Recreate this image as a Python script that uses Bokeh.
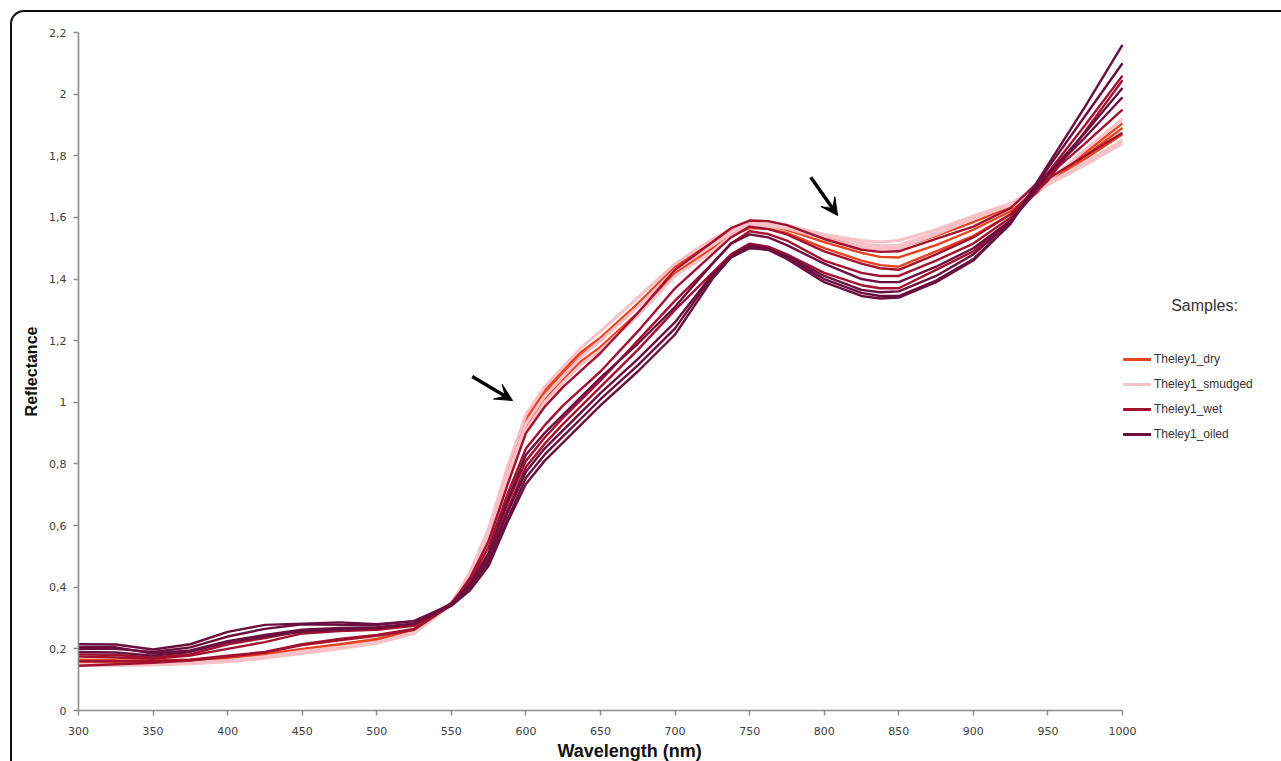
from bokeh.plotting import figure
from bokeh.models import Legend, LegendItem, Arrow, VeeHead, FixedTicker, Label, Range1d, Title
from bokeh.embed import file_html
from bokeh.resources import INLINE

# ---------------- data ----------------
wavelength = [300, 325, 350, 375, 400, 425, 450, 475, 500, 525, 550,
              562.5, 575, 587.5, 600, 612.5, 625, 637.5, 650,
              675, 700, 725, 737.5, 750, 762.5, 775,
              800, 825, 837.5, 850, 875, 900, 925, 950, 975, 1000]

dry_1 = [.165, .163, .162, .165, .172, .183, .200, .215, .232, .262, .350,
         .44, .58, .78, .95, 1.04, 1.105, 1.165, 1.21,
         1.32, 1.44, 1.52, 1.560, 1.585, 1.583, 1.57,
         1.535, 1.505, 1.497, 1.50, 1.54, 1.585, 1.635, 1.72, 1.81, 1.905]
dry_2 = [.160, .158, .158, .162, .170, .182, .197, .212, .228, .258, .348,
         .44, .57, .77, .94, 1.03, 1.095, 1.155, 1.20,
         1.31, 1.43, 1.51, 1.550, 1.575, 1.573, 1.56,
         1.52, 1.485, 1.472, 1.47, 1.51, 1.56, 1.62, 1.715, 1.79, 1.87]
dry_3 = [.155, .155, .156, .160, .168, .180, .195, .210, .226, .256, .346,
         .43, .56, .75, .92, 1.01, 1.075, 1.135, 1.18,
         1.29, 1.42, 1.50, 1.540, 1.565, 1.563, 1.55,
         1.50, 1.46, 1.445, 1.44, 1.49, 1.54, 1.61, 1.71, 1.80, 1.89]
smudged_1 = [.150, .150, .150, .153, .160, .172, .188, .203, .220, .252, .345,
             .45, .59, .79, .96, 1.05, 1.115, 1.18, 1.23,
             1.34, 1.45, 1.53, 1.562, 1.58, 1.582, 1.575,
             1.545, 1.525, 1.52, 1.525, 1.56, 1.605, 1.645, 1.715, 1.82, 1.92]
smudged_2 = [.145, .146, .148, .152, .158, .170, .185, .200, .218, .250, .343,
             .44, .57, .76, .93, 1.02, 1.085, 1.15, 1.20,
             1.31, 1.43, 1.51, 1.552, 1.575, 1.577, 1.57,
             1.54, 1.515, 1.508, 1.51, 1.55, 1.60, 1.645, 1.71, 1.78, 1.85]
smudged_3 = [.148, .148, .150, .155, .162, .175, .192, .206, .222, .254, .346,
             .43, .55, .74, .91, 1.00, 1.065, 1.125, 1.17,
             1.28, 1.41, 1.49, 1.540, 1.57, 1.572, 1.565,
             1.53, 1.505, 1.498, 1.50, 1.545, 1.595, 1.64, 1.705, 1.77, 1.84]
wet_1 = [.175, .172, .168, .178, .200, .222, .250, .258, .262, .275, .345,
         .43, .55, .73, .90, .985, 1.05, 1.105, 1.16,
         1.29, 1.43, 1.52, 1.565, 1.59, 1.588, 1.575,
         1.53, 1.495, 1.488, 1.49, 1.53, 1.57, 1.63, 1.745, 1.90, 2.06]
wet_2 = [.182, .180, .172, .182, .215, .235, .258, .262, .265, .278, .348,
         .42, .53, .70, .85, .925, .99, 1.045, 1.10,
         1.23, 1.37, 1.48, 1.535, 1.57, 1.562, 1.545,
         1.49, 1.45, 1.435, 1.43, 1.48, 1.535, 1.61, 1.735, 1.84, 1.95]
wet_3 = [.160, .160, .160, .165, .178, .190, .215, .232, .245, .265, .345,
         .41, .51, .67, .81, .885, .95, 1.01, 1.07,
         1.20, 1.33, 1.45, 1.515, 1.555, 1.546, 1.525,
         1.46, 1.42, 1.41, 1.41, 1.46, 1.515, 1.60, 1.72, 1.88, 2.045]
wet_4 = [.145, .150, .155, .162, .175, .188, .212, .228, .242, .262, .342,
         .40, .50, .65, .79, .865, .93, .99, 1.05,
         1.17, 1.30, 1.42, 1.480, 1.515, 1.505, 1.48,
         1.42, 1.38, 1.37, 1.37, 1.43, 1.49, 1.59, 1.725, 1.80, 1.875]
oiled_1 = [.200, .200, .190, .205, .240, .265, .280, .278, .278, .290, .340,
           .39, .47, .61, .735, .81, .87, .93, .99,
           1.10, 1.22, 1.40, 1.470, 1.505, 1.495, 1.465,
           1.39, 1.345, 1.337, 1.34, 1.39, 1.46, 1.58, 1.77, 1.96, 2.16]
oiled_2 = [.215, .214, .198, .215, .255, .278, .282, .286, .280, .290, .345,
           .40, .48, .62, .755, .83, .89, .95, 1.01,
           1.12, 1.24, 1.41, 1.475, 1.51, 1.500, 1.47,
           1.40, 1.355, 1.345, 1.345, 1.395, 1.465, 1.58, 1.76, 1.93, 2.10]
oiled_3 = [.205, .205, .185, .195, .225, .245, .262, .268, .270, .282, .340,
           .40, .49, .64, .775, .85, .91, .97, 1.03,
           1.14, 1.26, 1.415, 1.470, 1.50, 1.495, 1.475,
           1.41, 1.365, 1.357, 1.36, 1.41, 1.48, 1.585, 1.74, 1.875, 2.02]
oiled_4 = [.190, .188, .178, .190, .222, .240, .256, .262, .268, .282, .345,
           .41, .51, .68, .83, .90, .96, 1.02, 1.08,
           1.19, 1.31, 1.45, 1.515, 1.545, 1.535, 1.51,
           1.45, 1.40, 1.39, 1.39, 1.44, 1.50, 1.59, 1.74, 1.86, 1.99]

sample_names = ["Theley1_dry", "Theley1_smudged", "Theley1_wet", "Theley1_oiled"]
sample_series = [[dry_1, dry_2, dry_3],
                 [smudged_1, smudged_2, smudged_3],
                 [wet_1, wet_2, wet_3, wet_4],
                 [oiled_1, oiled_2, oiled_3, oiled_4]]
sample_colors = ["#E8431F", "#F7C1C8", "#A3112F", "#6A0F3E"]
sample_widths = [2.4, 3.0, 2.4, 2.4]

x_ticks = [300, 350, 400, 450, 500, 550, 600, 650, 700, 750, 800, 850, 900, 950, 1000]
y_ticks = [0, 0.2, 0.4, 0.6, 0.8, 1.0, 1.2, 1.4, 1.6, 1.8, 2.0, 2.2]
y_tick_labels = ["0", "0,2", "0,4", "0,6", "0,8", "1", "1,2", "1,4", "1,6", "1,8", "2", "2,2"]

legend_title = "Samples:"
x_label = "Wavelength (nm)"
y_label = "Reflectance"

# arrows (start -> end, data coordinates)
arrow_x_start = [564, 791]
arrow_y_start = [1.084, 1.730]
arrow_x_end = [591, 809]
arrow_y_end = [1.006, 1.606]

# ---------------- figure ----------------
# reference scale: 1044 px for 300..1000 nm; the frame extends to the right
# (beyond 1000 nm) so that the legend can sit there; the x axis is bounded to 300..1000
FRAME_W = 1200
x_end = 300 + FRAME_W * 700 / 1044

p = figure(frame_width=FRAME_W, frame_height=678, output_backend="svg", toolbar_location=None,
           x_range=Range1d(300, x_end), y_range=Range1d(0, 2.2),
           min_border_left=66, min_border_right=3, min_border_top=20, min_border_bottom=10,
           styles={"margin-left": "10px", "margin-top": "10px",
                   "border-left": "2px solid #111111", "border-top": "2px solid #111111",
                   "border-top-left-radius": "14px"})
p.outline_line_color = None
p.background_fill_color = None
p.border_fill_color = None
p.xgrid.visible = False
p.ygrid.visible = False

for ax in (p.xaxis[0], p.yaxis[0]):
    ax.axis_line_color = "#8C8C8C"
    ax.axis_line_width = 1.6
    ax.major_tick_line_color = "#8C8C8C"
    ax.major_tick_line_width = 1.4
    ax.major_tick_in = 0
    ax.major_tick_out = 5
    ax.minor_tick_line_color = None
    ax.major_label_text_font = "DejaVu Sans"
    ax.major_label_text_font_size = "11px"
    ax.major_label_text_color = "#404040"
    ax.major_label_standoff = 7
    ax.axis_label_text_font = "Liberation Sans"
    ax.axis_label_text_font_style = "bold"
    ax.axis_label_text_font_size = "16px"
    ax.axis_label_text_color = "#111111"

p.xaxis.bounds = (300, 1000)
p.xaxis.major_label_standoff = 11
p.xaxis.ticker = FixedTicker(ticks=x_ticks)
p.yaxis.ticker = FixedTicker(ticks=y_ticks)
p.yaxis.major_label_overrides = {t: s for t, s in zip(y_ticks, y_tick_labels)}
p.yaxis.axis_label = y_label
p.yaxis.axis_label_standoff = 6

# x axis title, placed under the 300..1000 nm part of the axis as in the reference
p.add_layout(Title(text=x_label, align="left", offset=479, standoff=2,
                   text_font="Liberation Sans", text_font_style="bold",
                   text_font_size="18px", text_color="#111111"), "below")

items = []
for name, series, color, lw in zip(sample_names, sample_series, sample_colors, sample_widths):
    rs = []
    for s in series:
        rs.append(p.line(wavelength, s, line_color=color, line_width=lw))
    items.append(LegendItem(label=name, renderers=rs))

for xs, ys, xe, ye in zip(arrow_x_start, arrow_y_start, arrow_x_end, arrow_y_end):
    p.add_layout(Arrow(end=VeeHead(size=17, fill_color="black", line_color="black"),
                       x_start=xs, y_start=ys, x_end=xe, y_end=ye,
                       line_color="black", line_width=3.5))

legend = Legend(items=items, location=(1045, 266), padding=0, margin=0,
                glyph_width=28, glyph_height=20, label_height=20, spacing=5,
                label_standoff=3, label_text_font="Liberation Sans",
                label_text_font_size="12px", label_text_color="#333333",
                border_line_color=None, background_fill_alpha=0)
p.add_layout(legend)

p.add_layout(Label(x=1055, y=1.314, text=legend_title, text_align="center",
                   text_baseline="middle", text_font="Liberation Sans",
                   text_font_size="16px", text_color="#333333"))

open("out.html", "w").write(file_html(p, INLINE))
